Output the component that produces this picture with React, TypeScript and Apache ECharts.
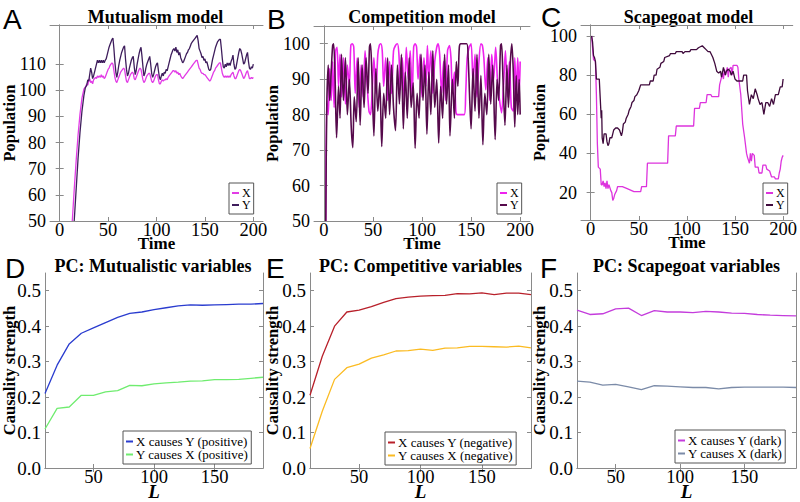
import React, { useEffect, useRef } from 'react';
import * as echarts from 'echarts';

const SERIF = "Liberation Serif, Times New Roman, serif";
const SANS = "Liberation Sans, Arial, sans-serif";

// ---------- tick labels ----------
const timeTicks = [0, 50, 100, 150, 200];
const mutualismYTicks = [50, 60, 70, 80, 90, 100, 110];
const competitionYTicks = [50, 60, 70, 80, 90, 100];
const scapegoatYTicks = [20, 40, 60, 80, 100];
const lagTicks = [50, 100, 150];
const strengthTicks = [0, 0.1, 0.2, 0.3, 0.4, 0.5];

// ---------- panel A: mutualism model [time, population] ----------
const mutualismX: number[][] = [
  [13, 50], [15, 62], [17, 73], [19, 83], [21, 91], [23, 97], [25, 100.5], [27, 101.5], [28, 102.5], [29, 102], [30, 103.5],
  [31, 104.5], [32, 103], [33, 103.5], [34, 102.5], [35, 104], [36, 104.5], [37, 105], [38, 104.5], [39, 105.5], [40, 105],
  [41, 105.5], [42, 105], [43, 106], [44, 105], [45, 105.5], [46, 104.5], [47, 105], [48, 106], [49, 107], [50, 108],
  [51, 108.5], [52, 109.5], [53, 110], [54, 110.5], [55, 110], [56, 107.5], [57, 105], [58, 103.5], [59, 103], [60, 104],
  [61, 105], [62, 106], [63, 107], [64, 107.5], [65, 108], [66, 108.5], [67, 108], [68, 105.5], [69, 103.5], [70, 103],
  [71, 104], [72, 105], [73, 106], [74, 106.5], [75, 107], [76, 106.5], [77, 104.5], [78, 104], [79, 105], [80, 106],
  [81, 107], [82, 108], [83, 108.5], [84, 108], [85, 106], [86, 104], [87, 103], [88, 103.5], [89, 104.5], [90, 105.5],
  [91, 106], [92, 106.5], [93, 106.5], [94, 105], [95, 103.5], [96, 103], [97, 103.5], [98, 104.5], [99, 105.5], [100, 106],
  [101, 106], [102, 104], [103, 102.5], [104, 102.5], [105, 103.5], [106, 104], [107, 103.5], [108, 104], [109, 104], [110, 104.5],
  [111, 104], [112, 105], [113, 105.5], [114, 106], [115, 106.5], [116, 107], [117, 107.5], [118, 107.5], [119, 107], [120, 107.5],
  [121, 106.5], [122, 107], [123, 106], [124, 106.5], [125, 105.5], [126, 105], [127, 104.5], [128, 105], [129, 105.5], [130, 106],
  [131, 106.5], [132, 107], [133, 107.5], [134, 108], [135, 108.5], [136, 109], [137, 109.5], [138, 110], [139, 110.5], [140, 111],
  [141, 111.5], [142, 111.5], [143, 110], [144, 108.5], [145, 108], [146, 107], [147, 106.5], [148, 106.5], [149, 106], [150, 106],
  [151, 105.5], [152, 105], [153, 104.5], [154, 104], [155, 103.5], [156, 104], [157, 105], [158, 106], [159, 107], [160, 107.5],
  [161, 108.5], [162, 109], [163, 109.5], [164, 110], [165, 110.5], [166, 110.5], [167, 108.5], [168, 106.5], [169, 105.5], [170, 105],
  [171, 105.5], [172, 105], [173, 105.5], [174, 105], [175, 105.5], [176, 105], [177, 106], [178, 106.5], [179, 107], [180, 105.5],
  [181, 104.5], [182, 104.5], [183, 105.5], [184, 106.5], [185, 107.5], [186, 108], [187, 107.5], [188, 106.5], [189, 105.5], [190, 104.5],
  [191, 105], [192, 106], [193, 107], [194, 107.5], [195, 106], [196, 104.5], [197, 104.5], [198, 105], [199, 104.5], [200, 105],
];
const mutualismY: number[][] = [
  [15, 50], [17, 62], [19, 74], [21, 84], [23, 92], [25, 98], [26.5, 101], [28, 102], [29, 104], [30, 103.5], [31, 106],
  [32, 108.5], [33, 107], [34, 104.5], [35, 105.5], [36, 107], [37, 108.5], [38, 110], [39, 111.5], [40, 110.5], [41, 111.5],
  [42, 110.5], [43, 111.5], [44, 110.5], [45, 111.5], [46, 110.5], [47, 111.5], [48, 112], [49, 113.5], [50, 115], [51, 116.5],
  [52, 117.5], [53, 118.5], [54, 119.5], [55, 120], [56, 116], [57, 111], [58, 107], [59, 105], [60, 107], [61, 109.5],
  [62, 111.5], [63, 113], [64, 114.5], [65, 115.5], [66, 116.5], [67, 117], [68, 112], [69, 108], [70, 105.5], [71, 106.5],
  [72, 108.5], [73, 110], [74, 111.5], [75, 112.5], [76, 113], [77, 109], [78, 106], [79, 107.5], [80, 110], [81, 112],
  [82, 114], [83, 115.5], [84, 116.5], [85, 113], [86, 109], [87, 105.5], [88, 106.5], [89, 108.5], [90, 110], [91, 111],
  [92, 112], [93, 113], [94, 110], [95, 106.5], [96, 105], [97, 106], [98, 107.5], [99, 109], [100, 110], [101, 110.5],
  [102, 107.5], [103, 105], [104, 104], [105, 105.5], [106, 106.5], [107, 105.5], [108, 107], [109, 106.5], [110, 108], [111, 107.5],
  [112, 109], [113, 110.5], [114, 112], [115, 113.5], [116, 114.5], [117, 115.5], [118, 116], [119, 115], [120, 116.5], [121, 114.5],
  [122, 115.5], [123, 113.5], [124, 114.5], [125, 112.5], [126, 111.5], [127, 110.5], [128, 111], [129, 112], [130, 113], [131, 114],
  [132, 114.5], [133, 115.5], [134, 116], [135, 117], [136, 118], [137, 118.5], [138, 119], [139, 119.5], [140, 120], [141, 120.5],
  [142, 121], [143, 119], [144, 116], [145, 115], [146, 114], [147, 112.5], [148, 113], [149, 111.5], [150, 112], [151, 110.5],
  [152, 111], [153, 109.5], [154, 108], [155, 107.5], [156, 108], [157, 110], [158, 112], [159, 113.5], [160, 115], [161, 116.5],
  [162, 117.5], [163, 118.5], [164, 119], [165, 119.5], [166, 119.5], [167, 116], [168, 112], [169, 109], [170, 108.5], [171, 110],
  [172, 109], [173, 110.5], [174, 109.5], [175, 110.5], [176, 109.5], [177, 111], [178, 112], [179, 113.5], [180, 110], [181, 108],
  [182, 108.5], [183, 110.5], [184, 112.5], [185, 114.5], [186, 116], [187, 115.5], [188, 114], [189, 112], [190, 110], [191, 110.5],
  [192, 112], [193, 113.5], [194, 114.5], [195, 111], [196, 108.5], [197, 108], [198, 109], [199, 108.5], [200, 110],
];

// ---------- panel B: competition model ----------
const competitionX: number[][] = [
  [2, 50], [3, 84], [4.5, 80], [6, 93], [7.5, 84], [9, 95], [10.5, 82], [12, 98], [13.5, 99], [15, 88], [16.5, 97], [18, 85],
  [20, 96], [22, 83], [24, 94], [26, 88], [27.5, 99.5], [29, 100], [30.5, 99], [32, 86], [34, 96], [36, 82], [38, 94], [40, 85],
  [42, 98], [44, 89], [46, 81], [47.5, 80], [49, 85], [51, 96], [53, 86], [55, 97], [56.5, 99.5], [58, 100], [59.5, 98], [61, 88],
  [63, 96], [65, 84], [67, 95], [69, 86], [71, 98], [73, 99.5], [75, 100], [76.5, 97], [78, 87], [80, 96], [82, 84], [84, 99],
  [86, 90], [88, 98], [90, 85], [91.5, 99], [93, 100], [94.5, 99], [96, 90], [98, 97], [100, 85], [102, 96], [104, 88], [105.5, 99.5],
  [107, 90], [109, 98], [111, 86], [113, 95], [115, 99], [116.5, 100], [118, 97], [120, 86], [122, 95], [124, 84], [126, 98], [128, 99.5],
  [129.5, 96], [131, 86], [133, 92], [134.5, 81], [136, 80], [143, 80], [144.5, 86], [146, 96], [148, 99], [150, 100], [152, 89], [154, 97],
  [156, 85], [158, 95], [160, 100], [161.5, 99.5], [163, 96], [165, 87], [167, 96], [169, 84], [171, 97], [173, 90], [175, 99], [177, 89],
  [179, 84], [181, 80.5], [183, 88], [185, 98], [187, 85], [189, 95], [191, 82], [193, 81], [194.5, 96], [196, 85], [197.5, 96], [199, 86], [200, 95],
];
const competitionY: number[][] = [
  [2, 50], [3, 82], [4.5, 94], [6, 84], [7.5, 92], [9, 99.5], [10, 100], [11.5, 90], [13, 73.5], [15, 88], [16.5, 79], [18, 97],
  [20, 84], [22, 96], [24, 80], [26, 90], [28, 76], [29.5, 70.7], [31, 85], [33, 78], [35, 96], [37, 77], [39, 94], [41, 82],
  [43, 96], [45, 86], [46.5, 99], [47.5, 100], [49, 91], [51, 74], [53, 93], [55, 81], [57, 89], [59, 71], [61, 86], [63, 79],
  [65, 96], [67, 80], [69, 94], [71, 82], [73, 75.5], [75, 94], [77, 83], [79, 97], [81, 76], [83, 92], [85, 79], [87, 96],
  [89, 82], [91, 89], [93, 70.5], [95, 86], [97, 79], [99, 97], [101, 84], [103, 94], [105, 74.5], [107, 92], [109, 80], [111, 98],
  [113, 82], [115, 90], [117, 72], [119, 88], [121, 79], [123, 97], [125, 83], [127, 94], [128.5, 74], [131, 90], [133, 79], [135, 95],
  [136.5, 88], [138, 99], [139.5, 100], [145.5, 100], [147, 96], [148.5, 85], [150, 76], [152, 93], [154, 81], [156, 97], [158, 79], [160, 91],
  [162, 71.5], [164, 86], [166, 80], [168, 97], [170, 83], [172, 94], [174.5, 73], [176.5, 90], [178, 84], [180, 99.5], [181, 100], [182.5, 90],
  [184.5, 77], [186.5, 94], [188, 82], [190, 95], [191.5, 100], [193, 92], [194.5, 76.5], [196, 91], [197.5, 80], [199, 90], [200, 80],
];

// ---------- panel C: scapegoat model ----------
const scapegoatX: number[][] = [
  [1, 100], [2, 94], [3, 88], [5, 87], [6, 70], [7, 45], [8, 33], [10, 32], [11, 24], [12, 24], [13, 26], [14, 23], [15, 25], [16, 22],
  [17, 26], [18, 22], [19, 24], [21, 21], [22, 20], [23, 16], [24, 17], [25, 19], [27, 21], [28, 23], [33, 23], [38, 22], [45, 20.5],
  [52, 20.5], [53, 23], [58, 23], [59, 35], [66, 35], [80, 35], [81, 49], [88, 49], [89, 54], [98, 54], [107, 54], [108, 63], [113, 63],
  [114, 66], [120, 66], [121, 70], [125, 70], [126, 69], [133, 69], [134, 75], [136, 79], [137, 81], [138, 78], [139, 83], [140, 80],
  [142, 84], [143, 79], [144, 83], [146, 84], [147, 80], [148, 85], [152, 85], [153, 84], [154, 78], [156, 70], [158, 55], [160, 48],
  [162, 40], [163, 38], [165, 35], [166, 40], [167, 36], [168, 40], [170, 39], [171, 33], [174, 33], [175, 30], [178, 30], [179, 34],
  [182, 34], [183, 32], [186, 31], [188, 28], [191, 28], [192, 27], [195, 27], [196, 30], [197, 32], [198, 36], [199, 38], [200, 39],
];
const scapegoatY: number[][] = [
  [1, 100], [2, 97], [3, 90], [4, 89], [5, 87], [6, 78], [9, 78], [10, 68], [11, 58], [11.5, 62], [12, 48], [13, 45], [14, 50], [16, 50],
  [17, 46], [18, 44], [19, 45], [20, 48], [22, 48], [23, 50], [24, 52], [26, 53], [28, 53], [30, 52], [32, 49], [33, 51], [34, 55],
  [36, 56], [37, 58], [39, 60], [40, 62], [42, 64], [43, 66], [45, 67], [46, 69], [48, 70], [50, 72], [52, 75], [61, 75], [62, 77],
  [65, 77], [66, 80], [68, 80], [69, 83], [72, 84], [73, 86], [76, 87], [77, 89], [82, 90], [83, 91], [88, 91], [89, 92], [95, 92],
  [96, 91], [98, 92], [103, 92], [104, 93], [110, 93], [112, 94], [116, 95], [118, 94], [120, 93], [122, 92], [124, 92], [125, 91],
  [127, 89], [129, 86], [131, 82], [133, 81], [135, 82], [136, 79], [138, 84], [140, 80], [141, 82], [143, 83], [145, 82], [146, 80],
  [148, 82], [150, 78], [152, 77], [158, 77], [159, 80], [162, 80], [163, 72], [165, 65], [167, 70], [169, 68], [171, 73], [173, 70],
  [174, 68], [176, 65], [178, 66], [180, 60], [182, 66], [184, 66], [186, 64], [188, 68], [190, 65], [192, 70], [195, 70], [197, 74],
  [199, 74], [200, 78],
];

// ---------- panels D–F: causality strength vs L ----------
const lagDE = [10, 20, 30, 40, 50, 60, 70, 80, 90, 100, 110, 120, 130, 140, 150, 160, 170, 180, 190];
const lagF = [20, 30, 40, 50, 60, 70, 80, 90, 100, 110, 120, 130, 140, 150, 160, 170, 180, 190];
const mutXcausesY = [0.21, 0.29, 0.35, 0.38, 0.395, 0.41, 0.425, 0.436, 0.44, 0.447, 0.452, 0.457, 0.46, 0.459, 0.46, 0.461, 0.462, 0.462, 0.464];
const mutYcausesX = [0.11, 0.168, 0.172, 0.205, 0.205, 0.215, 0.218, 0.233, 0.232, 0.237, 0.24, 0.242, 0.245, 0.246, 0.249, 0.249, 0.25, 0.253, 0.256];
const compXcausesY = [0.205, 0.315, 0.4, 0.44, 0.445, 0.455, 0.467, 0.478, 0.482, 0.485, 0.486, 0.487, 0.492, 0.491, 0.494, 0.489, 0.493, 0.493, 0.489];
const compYcausesX = [0.055, 0.16, 0.25, 0.283, 0.293, 0.31, 0.319, 0.33, 0.331, 0.335, 0.332, 0.338, 0.339, 0.343, 0.343, 0.342, 0.341, 0.344, 0.339];
const scapeXcausesY = [0.445, 0.433, 0.435, 0.449, 0.451, 0.43, 0.444, 0.44, 0.44, 0.438, 0.442, 0.44, 0.437, 0.436, 0.433, 0.431, 0.43, 0.429];
const scapeYcausesX = [0.245, 0.242, 0.234, 0.236, 0.229, 0.221, 0.232, 0.231, 0.229, 0.227, 0.227, 0.223, 0.227, 0.228, 0.228, 0.228, 0.228, 0.227];

const pairs = (xs: number[], ys: number[]) => xs.map((x, i) => [x, ys[i]]);

type Panel = {
  letter: string;
  title: string;
  grid: { left: number; top: number; width: number; height: number };
  xMin: number; xMax: number; xTicks: number[];
  yMin: number; yMax: number; yTicks: number[];
  xName: string; yName: string; yGap: number;
  bottomRow: boolean;
  lineWidth: number;
  series: { name: string; label: string; color: string; data: number[][]; smooth?: number }[];
  legend: { left: number; top: number; fontSize: number; itemWidth: number; lineH: number };
};

const panels: Panel[] = [
  {
    letter: 'A', title: 'Mutualism model', grid: { left: 48, top: 25, width: 215, height: 196 },
    xMin: -10, xMax: 210, xTicks: timeTicks, yMin: 50, yMax: 125, yTicks: mutualismYTicks,
    xName: 'Time', yName: 'Population', yGap: 32, bottomRow: false, lineWidth: 1.3,
    series: [
      { name: 'A|X', label: 'X', color: '#e23ce6', data: mutualismX },
      { name: 'A|Y', label: 'Y', color: '#3e1d5c', data: mutualismY },
    ],
    legend: { left: 229, top: 183, fontSize: 12, itemWidth: 7, lineH: 10 },
  },
  {
    letter: 'B', title: 'Competition model', grid: { left: 314, top: 26, width: 216, height: 195 },
    xMin: -10, xMax: 210, xTicks: timeTicks, yMin: 50, yMax: 105, yTicks: competitionYTicks,
    xName: 'Time', yName: 'Population', yGap: 33, bottomRow: false, lineWidth: 1.6,
    series: [
      { name: 'B|X', label: 'X', color: '#ee22ee', data: competitionX, smooth: 0.3 },
      { name: 'B|Y', label: 'Y', color: '#560a4c', data: competitionY, smooth: 0.3 },
    ],
    legend: { left: 497, top: 183, fontSize: 12, itemWidth: 7, lineH: 10 },
  },
  {
    letter: 'C', title: 'Scapegoat model', grid: { left: 581, top: 25, width: 215, height: 195 },
    xMin: -10, xMax: 210, xTicks: timeTicks, yMin: 6, yMax: 105.6, yTicks: scapegoatYTicks,
    xName: 'Time', yName: 'Population', yGap: 33, bottomRow: false, lineWidth: 1.3,
    series: [
      { name: 'C|X', label: 'X', color: '#dd33dd', data: scapegoatX },
      { name: 'C|Y', label: 'Y', color: '#3f0a3c', data: scapegoatY },
    ],
    legend: { left: 763, top: 183, fontSize: 12, itemWidth: 7, lineH: 10 },
  },
  {
    letter: 'D', title: 'PC: Mutualistic variables', grid: { left: 43, top: 273, width: 220, height: 195 },
    xMin: 10, xMax: 190, xTicks: lagTicks, yMin: 0, yMax: 0.55, yTicks: strengthTicks,
    xName: 'L', yName: 'Causality strength', yGap: 27, bottomRow: true, lineWidth: 1.3,
    series: [
      { name: 'D|X causes Y (positive)', label: 'X causes Y (positive)', color: '#2a3ccf', data: pairs(lagDE, mutXcausesY) },
      { name: 'D|Y causes X (positive)', label: 'Y causes X (positive)', color: '#6fec6f', data: pairs(lagDE, mutYcausesX) },
    ],
    legend: { left: 123, top: 431, fontSize: 13, itemWidth: 7, lineH: 10 },
  },
  {
    letter: 'E', title: 'PC: Competitive variables', grid: { left: 310, top: 273, width: 221, height: 195 },
    xMin: 10, xMax: 190, xTicks: lagTicks, yMin: 0, yMax: 0.55, yTicks: strengthTicks,
    xName: 'L', yName: 'Causality strength', yGap: 29, bottomRow: true, lineWidth: 1.3,
    series: [
      { name: 'E|X causes Y (negative)', label: 'X causes Y (negative)', color: '#b8202a', data: pairs(lagDE, compXcausesY) },
      { name: 'E|Y causes X (negative)', label: 'Y causes X (negative)', color: '#fbbb22', data: pairs(lagDE, compYcausesX) },
    ],
    legend: { left: 385, top: 432, fontSize: 13, itemWidth: 7, lineH: 10 },
  },
  {
    letter: 'F', title: 'PC: Scapegoat variables', grid: { left: 577, top: 273, width: 219, height: 195 },
    xMin: 20, xMax: 190, xTicks: lagTicks, yMin: 0, yMax: 0.55, yTicks: strengthTicks,
    xName: 'L', yName: 'Causality strength', yGap: 29, bottomRow: true, lineWidth: 1.3,
    series: [
      { name: 'F|X causes Y (dark)', label: 'X causes Y (dark)', color: '#c43cdc', data: pairs(lagF, scapeXcausesY) },
      { name: 'F|Y causes X (dark)', label: 'Y causes X (dark)', color: '#7b8ba8', data: pairs(lagF, scapeYcausesX) },
    ],
    legend: { left: 675, top: 430, fontSize: 13, itemWidth: 7, lineH: 10 },
  },
];

const AXIS_COLOR = '#8a8a8a';

function buildOption() {
  const grid: any[] = [];
  const xAxis: any[] = [];
  const yAxis: any[] = [];
  const series: any[] = [];
  const legend: any[] = [];
  const graphic: any[] = [];

  panels.forEach((p, i) => {
    grid.push({ ...p.grid, containLabel: false });
    const line = { show: true, lineStyle: { color: AXIS_COLOR, width: 1 } };
    const tickX = { show: true, inside: true, length: 4, lineStyle: { color: AXIS_COLOR }, customValues: p.xTicks };
    const tickY = { show: true, inside: true, length: 4, lineStyle: { color: AXIS_COLOR }, customValues: p.yTicks };
    xAxis.push({
      type: 'value', gridIndex: i, position: 'bottom', min: p.xMin, max: p.xMax,
      axisLine: line, axisTick: tickX, splitLine: { show: false },
      axisLabel: { customValues: p.xTicks, color: '#000', fontFamily: SERIF, fontSize: 18.5, lineHeight: 12, margin: 3 },
      name: p.xName, nameLocation: 'middle', nameGap: p.bottomRow ? 16 : 15, nameMoveOverlap: false,
      nameTextStyle: {
        color: '#000', fontFamily: SERIF, fontWeight: 'bold', fontSize: p.bottomRow ? 19 : 17,
        fontStyle: p.bottomRow ? 'italic' : 'normal', lineHeight: 14,
      },
    });
    xAxis.push({
      type: 'value', gridIndex: i, position: 'top', min: p.xMin, max: p.xMax,
      axisLine: line, axisTick: tickX, splitLine: { show: false }, axisLabel: { show: false },
    });
    yAxis.push({
      type: 'value', gridIndex: i, position: 'left', min: p.yMin, max: p.yMax,
      axisLine: line, axisTick: tickY, splitLine: { show: false },
      axisLabel: {
        customValues: p.yTicks, color: '#000', fontFamily: SERIF, fontSize: p.bottomRow ? 19 : 18, margin: 4,
        formatter: (v: number) => (p.bottomRow ? v.toFixed(1) : String(v)),
      },
      name: p.yName, nameLocation: 'middle', nameRotate: 90, nameGap: p.yGap, nameMoveOverlap: false,
      nameTextStyle: { color: '#000', fontFamily: SERIF, fontWeight: 'bold', fontSize: 16.5 },
    });
    yAxis.push({
      type: 'value', gridIndex: i, position: 'right', min: p.yMin, max: p.yMax,
      axisLine: line, axisTick: tickY, splitLine: { show: false }, axisLabel: { show: false },
    });

    p.series.forEach((s) => {
      series.push({
        type: 'line', name: s.name, xAxisIndex: 2 * i, yAxisIndex: 2 * i, data: s.data,
        symbol: 'none', smooth: s.smooth ?? false, clip: true,
        lineStyle: { color: s.color, width: p.lineWidth }, itemStyle: { color: s.color },
      });
    });

    const labels: Record<string, string> = {};
    p.series.forEach((s) => (labels[s.name] = s.label));
    legend.push({
      data: p.series.map((s) => ({ name: s.name, icon: 'rect' })),
      orient: 'vertical', left: p.legend.left, top: p.legend.top,
      itemWidth: p.legend.itemWidth, itemHeight: 2, itemGap: 0,
      padding: [4, 3, 3, 3], borderColor: '#555', borderWidth: 1, backgroundColor: '#fff', borderRadius: 0,
      selectedMode: false,
      formatter: (name: string) => labels[name],
      textStyle: {
        fontFamily: SERIF, fontSize: p.legend.fontSize, color: '#000',
        lineHeight: p.legend.lineH, height: p.legend.lineH, padding: [0, 0, 0, -2],
      },
    });

    const cx = p.grid.left + p.grid.width / 2;
    const titleY = p.bottomRow ? 266 : 17;
    graphic.push({
      type: 'text', x: cx, y: titleY, silent: true,
      style: {
        text: p.title, fill: '#000', font: `bold 18px ${SERIF}`,
        align: 'center', verticalAlign: 'middle', textAlign: 'center', textVerticalAlign: 'middle',
      },
    });
  });

  const letterPos: Record<string, [number, number]> = {
    A: [3, 19], B: [267, 19], C: [541, 17], D: [5, 268], E: [266, 268], F: [540, 268],
  };
  panels.forEach((p) => {
    const [lx, ly] = letterPos[p.letter];
    graphic.push({
      type: 'text', x: lx, y: ly, silent: true,
      style: {
        text: p.letter, fill: '#000', font: `28px ${SANS}`,
        align: 'left', verticalAlign: 'middle', textAlign: 'left', textVerticalAlign: 'middle',
      },
    });
  });

  return { animation: false, backgroundColor: '#fff', grid, xAxis, yAxis, series, legend, graphic };
}

export default function App() {
  const ref = useRef<HTMLDivElement | null>(null);
  useEffect(() => {
    if (!ref.current) return;
    const chart = echarts.init(ref.current, undefined, { renderer: 'svg' });
    chart.setOption(buildOption() as any);
    return () => chart.dispose();
  }, []);
  return (
    <div
      ref={ref}
      style={{ position: 'absolute', left: 0, top: 0, width: 800, height: 502, background: '#fff' }}
    />
  );
}
